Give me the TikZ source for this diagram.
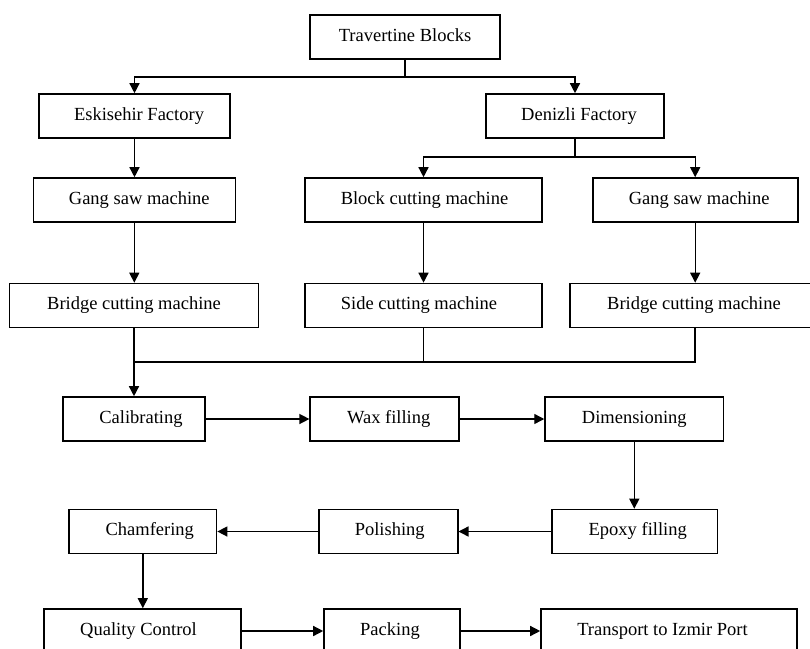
\documentclass[tikz,border=0pt]{standalone}
\usepackage{fontspec}
\setmainfont{Liberation Serif}
\usetikzlibrary{arrows.meta}
\newcommand\shiftedtext[2]{\hspace*{#1pt}#2\hspace*{-#1pt}}
\tikzset{
  box/.style={draw, line width=1.6pt, rectangle, inner sep=0pt, minimum height=44pt,
    text height=12pt, text depth=4pt,
    font=\fontsize{18.5}{22}\selectfont},
  conn/.style={line width=1.4pt},
  arr/.style={conn, -{Triangle[length=10pt,width=10pt]}}
}
\begin{document}
\begin{tikzpicture}[x=1pt, y=-1pt]
\useasboundingbox (0,0) rectangle (810,648);
\clip (0,0) rectangle (810,648);
% row 0
\node[box, minimum width=190pt] (trav) at (405,37) {Travertine Blocks};
% row 1
\node[box, minimum width=191pt] (esk) at (134.5,116) {\shiftedtext{4.5}{Eskisehir Factory}};
\node[box, minimum width=178pt] (den) at (575,116) {\shiftedtext{4}{Denizli Factory}};
% row 2
\node[box, minimum width=202pt] (gang1) at (134.3,200) {\shiftedtext{5}{Gang saw machine}};
\node[box, minimum width=237pt] (block) at (423.5,200) {\shiftedtext{1}{Block cutting machine}};
\node[box, minimum width=205pt] (gang2) at (695.2,200) {\shiftedtext{4}{Gang saw machine}};
% row 3
\node[box, minimum width=249pt] (bridge1) at (134,305.5) {Bridge cutting machine};
\node[box, minimum width=237pt] (side) at (423.5,305.5) {\shiftedtext{-4.5}{Side cutting machine}};
\node[box, minimum width=250pt] (bridge2) at (695,305.5) {\shiftedtext{-1}{Bridge cutting machine}};
% row 4
\node[box, minimum width=142pt] (calib) at (134,419) {\shiftedtext{7}{Calibrating}};
\node[box, minimum width=149pt] (wax) at (384.7,419) {\shiftedtext{4}{Wax filling}};
\node[box, minimum width=178.5pt] (dim) at (634.3,419) {Dimensioning};
% row 5
\node[box, minimum width=165.5pt] (epoxy) at (634.75,531.5) {\shiftedtext{3}{Epoxy filling}};
\node[box, minimum width=139pt] (polish) at (388.2,531.5) {\shiftedtext{1.5}{Polishing}};
\node[box, minimum width=147.5pt] (chamf) at (142.8,531.5) {\shiftedtext{7}{Chamfering}};
% row 6
\node[box, minimum width=197pt] (qc) at (142.5,631) {\shiftedtext{-4}{Quality Control}};
\node[box, minimum width=136pt] (pack) at (392,631) {\shiftedtext{-2}{Packing}};
\node[box, minimum width=256pt] (trans) at (669,631) {\shiftedtext{-6.5}{Transport to Izmir Port}};
% junctions
\coordinate (j1) at (405,77);
\coordinate (j2) at (575,157);
\coordinate (m) at (134,362);
% connectors
\draw[conn] (trav.south) -- (j1);
\draw[arr] (j1) -| (esk.north);
\draw[arr] (j1) -| (den.north);
\draw[conn] (den.south) -- (j2);
\draw[arr] (j2) -| (block.north);
\draw[arr] (j2) -| (gang2.north);
\draw[arr] (esk.south) -- (esk.south |- gang1.north);
\draw[arr] (gang1.south) -- (gang1.south |- bridge1.north);
\draw[arr] (block.south) -- (side.north);
\draw[arr] (gang2.south) -- (gang2.south |- bridge2.north);
\draw[arr] (bridge1.south) -- (calib.north);
\draw[conn] (bridge2.south) |- (m);
\draw[conn] (side.south) -- (side.south |- m);
\draw[arr] (calib.east) -- (wax.west);
\draw[arr] (wax.east) -- (dim.west);
\draw[arr] (dim.south) -- (dim.south |- epoxy.north);
\draw[arr] (epoxy.west) -- (polish.east);
\draw[arr] (polish.west) -- (chamf.east);
\draw[arr] (chamf.south) -- (chamf.south |- qc.north);
\draw[arr] (qc.east) -- (pack.west);
\draw[arr] (pack.east) -- (trans.west);
\end{tikzpicture}
\end{document}
